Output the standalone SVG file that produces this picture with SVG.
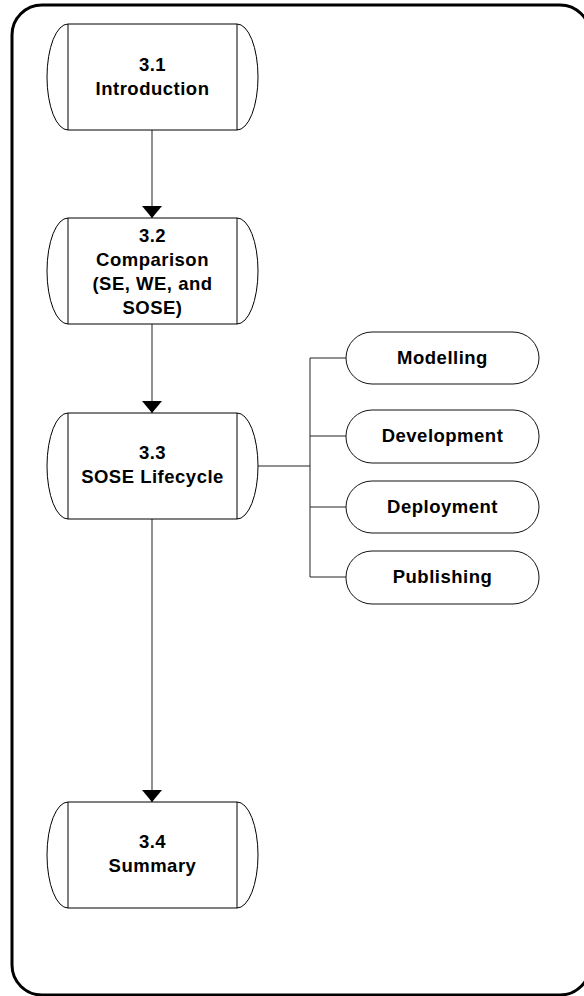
<svg xmlns="http://www.w3.org/2000/svg" width="584" height="996" viewBox="0 0 584 996">
  <defs>
    <marker id="arrow" viewBox="0 0 12 20" refX="12" refY="10" markerWidth="12" markerHeight="20" markerUnits="userSpaceOnUse" orient="auto">
      <path d="M0,0 L12,10 L0,20 Z" fill="#000"/>
    </marker>
    <style>
      .frame { fill: #fff; stroke: #000; stroke-width: 3; }
      .proc { fill: #fff; stroke: #000; stroke-width: 1; }
      .side { fill: none; stroke: #000; stroke-width: 1; }
      .pill { fill: #fff; stroke: #111; stroke-width: 1; }
      .link { fill: none; stroke: #555; stroke-width: 1.3; }
      .branch { fill: none; stroke: #222; stroke-width: 1; }
      text { font-family: "Liberation Sans", Arial, sans-serif; font-weight: bold; font-size: 18.5px; letter-spacing: 0.5px; fill: #000; text-anchor: middle; }
    </style>
  </defs>

  <rect class="frame" x="12" y="5" width="578" height="990" rx="30" ry="30"/>

  <!-- connectors -->
  <g id="connectors">
    <line class="link" x1="152" y1="130" x2="152" y2="218" marker-end="url(#arrow)"/>
    <line class="link" x1="152" y1="324" x2="152" y2="413" marker-end="url(#arrow)"/>
    <line class="link" x1="152" y1="519" x2="152" y2="802" marker-end="url(#arrow)"/>
    <line class="branch" x1="258" y1="466" x2="310" y2="466"/>
    <line class="branch" x1="310" y1="358" x2="310" y2="577"/>
    <line class="branch" x1="310" y1="358" x2="346" y2="358"/>
    <line class="branch" x1="310" y1="436" x2="346" y2="436"/>
    <line class="branch" x1="310" y1="507" x2="346" y2="507"/>
    <line class="branch" x1="310" y1="577" x2="346" y2="577"/>
  </g>

  <!-- chapter sections -->
  <g id="n31">
    <path class="proc" d="M68,24 H237 A21,53 0 0 1 237,130 H68 A21,53 0 0 1 68,24 Z"/>
    <path class="side" d="M68,24 V130 M237,24 V130"/>
    <text x="152.5" y="71">3.1</text>
    <text x="152.5" y="95">Introduction</text>
  </g>

  <g id="n32">
    <path class="proc" d="M68,218 H237 A21,53 0 0 1 237,324 H68 A21,53 0 0 1 68,218 Z"/>
    <path class="side" d="M68,218 V324 M237,218 V324"/>
    <text x="152.5" y="242">3.2</text>
    <text x="152.5" y="266">Comparison</text>
    <text x="152.5" y="290">(SE, WE, and</text>
    <text x="152.5" y="314">SOSE)</text>
  </g>

  <g id="n33">
    <path class="proc" d="M68,413 H237 A21,53 0 0 1 237,519 H68 A21,53 0 0 1 68,413 Z"/>
    <path class="side" d="M68,413 V519 M237,413 V519"/>
    <text x="152.5" y="459">3.3</text>
    <text x="152.5" y="483">SOSE Lifecycle</text>
  </g>

  <g id="n34">
    <path class="proc" d="M68,802 H237 A21,53 0 0 1 237,908 H68 A21,53 0 0 1 68,802 Z"/>
    <path class="side" d="M68,802 V908 M237,802 V908"/>
    <text x="152.5" y="848">3.4</text>
    <text x="152.5" y="872">Summary</text>
  </g>

  <!-- lifecycle phases -->
  <g id="modelling">
    <rect class="pill" x="346" y="332" width="193" height="52" rx="26" ry="26"/>
    <text x="442.5" y="364">Modelling</text>
  </g>
  <g id="development">
    <rect class="pill" x="346" y="410" width="193" height="53" rx="26" ry="26"/>
    <text x="442.5" y="442">Development</text>
  </g>
  <g id="deployment">
    <rect class="pill" x="346" y="481" width="193" height="52" rx="26" ry="26"/>
    <text x="442.5" y="513">Deployment</text>
  </g>
  <g id="publishing">
    <rect class="pill" x="346" y="551" width="193" height="53" rx="26" ry="26"/>
    <text x="442.5" y="583">Publishing</text>
  </g>
</svg>
